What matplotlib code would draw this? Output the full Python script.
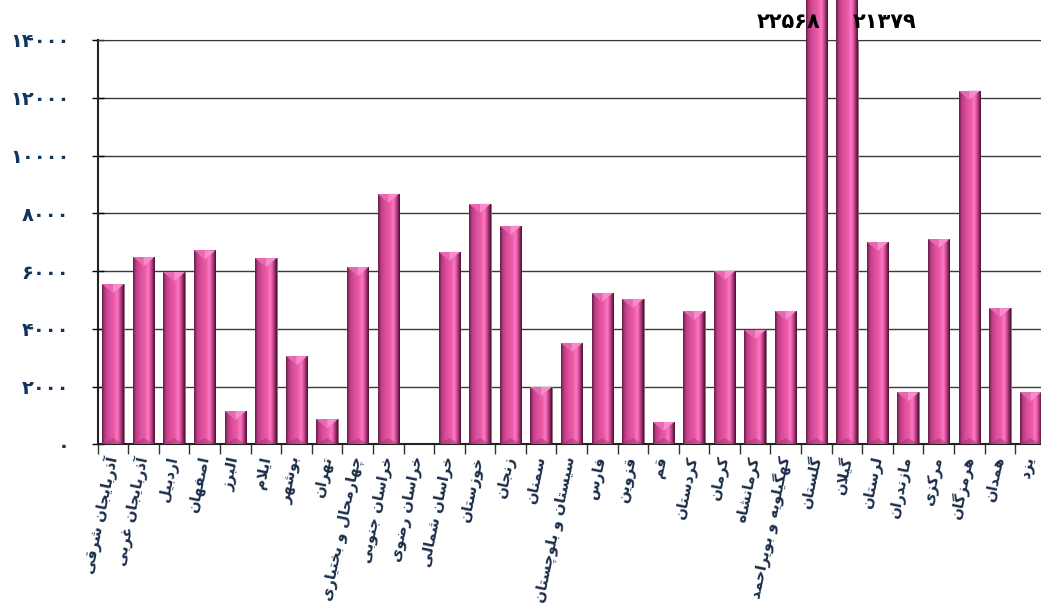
import matplotlib
matplotlib.use('Agg')
import matplotlib.pyplot as plt
import numpy as np
from matplotlib.colors import LinearSegmentedColormap
from matplotlib.patches import Polygon

provinces = ['آذربایجان شرقی', 'آذربایجان غربی', 'اردبیل', 'اصفهان', 'البرز',
             'ایلام', 'بوشهر', 'تهران', 'چهارمحال و بختیاری', 'خراسان جنوبی',
             'خراسان رضوی', 'خراسان شمالی', 'خوزستان', 'زنجان', 'سمنان',
             'سیستان و بلوچستان', 'فارس', 'قزوین', 'قم', 'کردستان', 'کرمان',
             'کرمانشاه', 'کهگیلویه و بویراحمد', 'گلستان', 'گیلان', 'لرستان',
             'مازندران', 'مرکزی', 'هرمزگان', 'همدان', 'یزد']
values = [5546, 6482, 5962, 6711, 1154, 6447, 3050, 867, 6135, 8676,
          0, 6665, 8330, 7567, 1986, 3511, 5244, 5036, 773, 4620, 6010,
          3962, 4620, 22568, 21379, 7002, 1802, 7106, 12246, 4714, 1802]
yticks = [0, 2000, 4000, 6000, 8000, 10000, 12000, 14000]
ymax = 14000

# --- poor man's arabic shaping (matplotlib has no text shaping) ---
# (isolated, final, initial, medial)
FORMS = {
    'ا': ('\uFE8D', '\uFE8E', None, None),
    'آ': ('\uFE81', '\uFE82', None, None),
    'ب': ('\uFE8F', '\uFE90', '\uFE91', '\uFE92'),
    'پ': ('\uFB56', '\uFB57', '\uFB58', '\uFB59'),
    'ت': ('\uFE95', '\uFE96', '\uFE97', '\uFE98'),
    'ج': ('\uFE9D', '\uFE9E', '\uFE9F', '\uFEA0'),
    'چ': ('\uFB7A', '\uFB7B', '\uFB7C', '\uFB7D'),
    'ح': ('\uFEA1', '\uFEA2', '\uFEA3', '\uFEA4'),
    'خ': ('\uFEA5', '\uFEA6', '\uFEA7', '\uFEA8'),
    'د': ('\uFEA9', '\uFEAA', None, None),
    'ذ': ('\uFEAB', '\uFEAC', None, None),
    'ر': ('\uFEAD', '\uFEAE', None, None),
    'ز': ('\uFEAF', '\uFEB0', None, None),
    'س': ('\uFEB1', '\uFEB2', '\uFEB3', '\uFEB4'),
    'ش': ('\uFEB5', '\uFEB6', '\uFEB7', '\uFEB8'),
    'ص': ('\uFEB9', '\uFEBA', '\uFEBB', '\uFEBC'),
    'ض': ('\uFEBD', '\uFEBE', '\uFEBF', '\uFEC0'),
    'غ': ('\uFECD', '\uFECE', '\uFECF', '\uFED0'),
    'ف': ('\uFED1', '\uFED2', '\uFED3', '\uFED4'),
    'ق': ('\uFED5', '\uFED6', '\uFED7', '\uFED8'),
    'ک': ('\uFB8E', '\uFB8F', '\uFB90', '\uFB91'),
    'گ': ('\uFB92', '\uFB93', '\uFB94', '\uFB95'),
    'ل': ('\uFEDD', '\uFEDE', '\uFEDF', '\uFEE0'),
    'م': ('\uFEE1', '\uFEE2', '\uFEE3', '\uFEE4'),
    'ن': ('\uFEE5', '\uFEE6', '\uFEE7', '\uFEE8'),
    'ه': ('\uFEE9', '\uFEEA', '\uFEEB', '\uFEEC'),
    'و': ('\uFEED', '\uFEEE', None, None),
    'ی': ('\uFBFC', '\uFBFD', '\uFBFE', '\uFBFF'),
}
LAMALEF = {'ا': ('\uFEFB', '\uFEFC'), 'آ': ('\uFEF5', '\uFEF6')}


def shape(txt):
    out = []
    i = 0
    while i < len(txt):
        c = txt[i]
        if c not in FORMS:
            out.append(c)
            i += 1
            continue
        prev = txt[i - 1] if i > 0 else ''
        nxt = txt[i + 1] if i + 1 < len(txt) else ''
        jp = prev in FORMS and FORMS[prev][2] is not None
        if c == 'ل' and nxt in LAMALEF:
            out.append(LAMALEF[nxt][1 if jp else 0])
            i += 2
            continue
        jn = FORMS[c][2] is not None and nxt in FORMS
        f = FORMS[c]
        if jp and jn:
            out.append(f[3])
        elif jp:
            out.append(f[1])
        elif jn:
            out.append(f[2])
        else:
            out.append(f[0])
        i += 1
    return ''.join(out)[::-1]


def fa_num(n):
    return str(n).translate(str.maketrans('0123456789', '۰۱۲۳۴۵۶۷۸۹'))


plt.rcParams['font.family'] = ['DejaVu Sans']

fig = plt.figure(figsize=(10.41, 6.05), dpi=100)
ax = fig.add_axes([0.0939, 0.2656, 0.9106, 0.6683])

x = np.arange(len(provinces))
w = 0.7
bars = ax.bar(x, values, width=w, color='#e0559f', edgecolor='#8a6a7a',
              linewidth=0.6, zorder=2)

cmap = LinearSegmentedColormap.from_list('cyl', [
    (0.0, '#5c1a40'), (0.12, '#b83a80'), (0.3, '#d84c98'),
    (0.55, '#ec5ca8'), (0.7, '#ff78c4'), (0.82, '#d04a94'),
    (0.93, '#7a2456'), (1.0, '#3e1028')])
grad = np.linspace(0, 1, 256).reshape(1, -1)
bev = ymax * 9 / 403.0
for b, v in zip(bars, values):
    if v <= 0:
        b.set_visible(False)
        continue
    x0 = b.get_x()
    x1 = x0 + b.get_width()
    xc = (x0 + x1) / 2
    im = ax.imshow(grad, cmap=cmap, extent=[x0, x1, 0, v], aspect='auto',
                   zorder=3, interpolation='bicubic')
    im.set_clip_path(b)
    if v < ymax:
        ax.add_patch(Polygon([(x0, v), (xc, v), (xc, v - bev)],
                             closed=True, color='#e868b0', lw=0, zorder=4))
        ax.add_patch(Polygon([(xc, v), (x1, v), (xc, v - bev)],
                             closed=True, color='#f88ccc', lw=0, zorder=4))
    ax.add_patch(Polygon([(x0, 0), (x1, 0), (xc, bev * 0.7)], closed=True,
                         color='#9a2e68', alpha=0.45, lw=0, zorder=4))

ax.set_xlim(-0.5, len(provinces) - 0.5)
ax.set_ylim(0, ymax)

ax.set_yticks(yticks)
ax.set_yticklabels([fa_num(t) for t in yticks], fontsize=14,
                   fontweight='bold', color='#12355e')
ax.tick_params(axis='y', direction='inout', length=9, width=1.0, pad=16)
ax.yaxis.grid(True, color='#3a3a3a', linewidth=1.0)
ax.set_axisbelow(True)

ax.set_xticks(x)
ax.set_xticklabels([shape(p) for p in provinces], rotation=78, ha='right',
                   va='center', rotation_mode='anchor', fontsize=10.5,
                   fontweight='bold', color='#1a2e4a')
ax.set_xticks(np.arange(len(provinces) + 1) - 0.5, minor=True)
ax.tick_params(axis='x', which='major', length=0, pad=9)
ax.tick_params(axis='x', which='minor', length=7, width=1.0, color='#333333')

for s in ['left', 'bottom']:
    ax.spines[s].set_linewidth(1.5)
    ax.spines[s].set_color('#222222')
ax.spines['top'].set_color('#3a3a3a')
ax.spines['right'].set_visible(False)

# values of the clipped bars
big = [i for i, v in enumerate(values) if v > ymax]
for k, i in enumerate(big):
    if k == 0:
        ax.annotate(fa_num(values[i]), xy=(i, 1.0), xycoords=('data', 'axes fraction'),
                    xytext=(3, 6), textcoords='offset points', ha='right',
                    va='bottom', fontsize=15, fontweight='bold', color='black')
    else:
        ax.annotate(fa_num(values[i]), xy=(i, 1.0), xycoords=('data', 'axes fraction'),
                    xytext=(4, 6), textcoords='offset points', ha='left',
                    va='bottom', fontsize=15, fontweight='bold', color='black')

fig.savefig('out.png', dpi=100)
